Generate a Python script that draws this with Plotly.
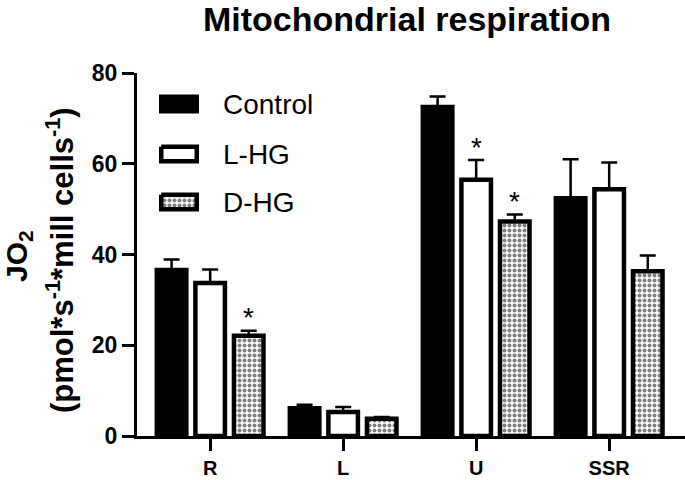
import plotly.graph_objects as go

categories = ["R", "L", "U", "SSR"]
series_names = ["Control", "L-HG", "D-HG"]
control = [36.6, 6.1, 72.5, 52.4]
control_err = [2.3, 0.8, 2.3, 8.6]
lhg = [33.7, 5.3, 56.5, 54.4]
lhg_err = [3.0, 1.1, 4.3, 5.9]
dhg = [22.1, 3.8, 47.3, 36.3]
dhg_err = [1.1, 0.4, 1.5, 3.5]
control_star = [False, False, False, False]
lhg_star = [False, False, True, False]
dhg_star = [True, False, True, False]
y_ticks = [0, 20, 40, 60, 80]

FONT = "Arial, Liberation Sans, sans-serif"
pitch = 0.29
bw = 0.222
offsets = [-pitch, 0.0, pitch]
LW = 4.5
PATTERN = dict(shape=".", size=5, solidity=0.5, fgcolor="black", bgcolor="white", fillmode="overlay")

# plot area in pixels (for legend placement helpers)
L, R, T, B = 137, 685, 73, 436
W, H = 685, 480

def px2paper_x(px):
    return (px - L) / (R - L)

def px2paper_y(py):
    return (B - py) / (B - T)

fig = go.Figure()
styles = [
    dict(color="black", line=dict(color="black", width=LW)),
    dict(color="white", line=dict(color="black", width=LW)),
    dict(color="white", line=dict(color="black", width=LW), pattern=PATTERN),
]
data = [(control, control_err, control_star), (lhg, lhg_err, lhg_star), (dhg, dhg_err, dhg_star)]
for k, ((vals, errs, stars), st) in enumerate(zip(data, styles)):
    xs = [i + offsets[k] for i in range(len(categories))]
    fig.add_trace(go.Bar(
        x=xs, y=vals, width=bw, marker=st, name=series_names[k], showlegend=False,
        error_y=dict(type="data", array=errs, arrayminus=[0] * len(errs), symmetric=False,
                     color="black", thickness=2.5, width=8),
    ))
    for x, v, e, s in zip(xs, vals, errs, stars):
        if s:
            fig.add_annotation(x=x, y=v + e, xref="x", yref="y", text="*", showarrow=False,
                               yanchor="middle", yshift=13, font=dict(family=FONT, size=28, color="black"))

# legend (manual, in pixel-like overlay axes)
leg_rows = [104, 154, 202]
sw_x0, sw_x1, sw_h = 159, 199, 19
fills = ["black", "white", "white"]
for k, (name, yc) in enumerate(zip(series_names, leg_rows)):
    y0, y1 = yc - sw_h / 2, yc + sw_h / 2
    if k == 0:
        px = [sw_x0, sw_x1, sw_x1, sw_x0, sw_x0]
        py = [y0, y0, y1, y1, y0]
        lw = 0
    else:
        d = LW / 2
        px = [sw_x0 + d, sw_x1 - d, sw_x1 - d, sw_x0 + d, sw_x0 + d]
        py = [y0 + d, y0 + d, y1 - d, y1 - d, y0 + d]
        lw = LW
    tr = dict(x=px, y=py, mode="lines", fill="toself", fillcolor=fills[k],
              line=dict(color="black", width=lw), xaxis="x2", yaxis="y2",
              showlegend=False, hoverinfo="skip")
    if k == 2:
        tr["fillpattern"] = PATTERN
    fig.add_trace(go.Scatter(**tr))
    fig.add_annotation(x=221, y=yc, xref="x2", yref="y2", text=name, showarrow=False,
                       xanchor="left", yanchor="middle", font=dict(family=FONT, size=28, color="black"))

# y axis title as two rotated lines
fig.add_annotation(x=px2paper_x(18), y=px2paper_y(256), xref="paper", yref="paper",
                   xanchor="center", yanchor="middle",
                   text="<b>JO<sub>2</sub></b>", textangle=-90, showarrow=False,
                   font=dict(family=FONT, size=30, color="black"))
fig.add_annotation(x=px2paper_x(60), y=px2paper_y(260), xref="paper", yref="paper",
                   xanchor="center", yanchor="middle",
                   text="<b>(pmol*s<sup>-1</sup>*mill cells<sup>-1</sup>)</b>", textangle=-90, showarrow=False,
                   font=dict(family=FONT, size=31, color="black"))

fig.update_layout(
    width=W, height=H,
    margin=dict(l=L, r=W - R, t=T, b=H - B, autoexpand=False),
    paper_bgcolor="white", plot_bgcolor="white",
    barmode="overlay",
    title=dict(text="<b>Mitochondrial respiration</b>", x=407 / W, xref="container", xanchor="center",
               y=1 - 19 / H, yref="container", yanchor="middle",
               font=dict(family=FONT, size=34, color="black")),
    xaxis=dict(range=[-0.55, 3.57], tickvals=list(range(len(categories))), ticktext=categories,
               showline=True, linecolor="black", linewidth=3, ticks="outside", ticklen=12,
               tickwidth=3, tickcolor="black", showgrid=False, zeroline=False, automargin=False,
               tickfont=dict(family=FONT, size=20, color="black", weight="bold"), ticklabelstandoff=0),
    yaxis=dict(range=[0, 80], tickvals=y_ticks, showline=True, linecolor="black", linewidth=3,
               ticks="outside", ticklen=12, tickwidth=3, tickcolor="black", showgrid=False,
               zeroline=False, automargin=False,
               tickfont=dict(family=FONT, size=23, color="black", weight="bold")),
    xaxis2=dict(overlaying="x", range=[L, R], visible=False, fixedrange=True, automargin=False),
    yaxis2=dict(overlaying="y", range=[B, T], visible=False, fixedrange=True, automargin=False),
    font=dict(family=FONT, color="black"),
)

fig.write_html("out.html", config={"displayModeBar": False},
               post_script="document.body.style.margin='0';document.body.style.overflow='hidden';")
